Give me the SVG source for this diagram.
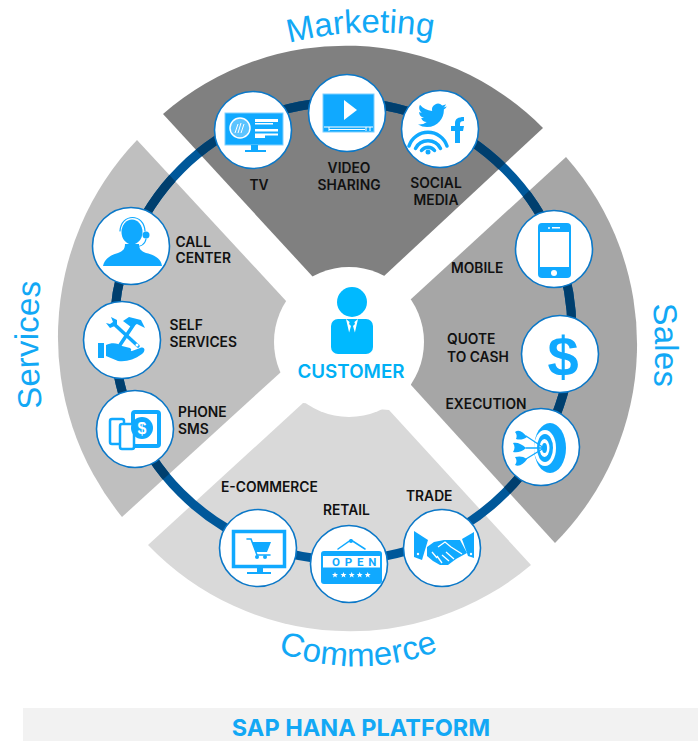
<svg xmlns="http://www.w3.org/2000/svg" width="698" height="741" viewBox="0 0 698 741">
<style>
.lbl{font-family:Inter,Roboto,"Liberation Sans",sans-serif;font-weight:600;font-size:13.8px;fill:#111}
.cap{font-family:"Liberation Sans",Arial,sans-serif;font-size:33px;fill:#12a8f5}
.node{fill:#fff;stroke:#0b78c8;stroke-width:1.6}
.b{fill:#10a9ff}
.w{fill:#fff}
.sb{fill:none;stroke:#10a9ff;stroke-linecap:round}
.sw{fill:none;stroke:#fff}
.ring{fill:none;stroke-width:9}
</style>
<defs>
<path id="pMarketing" d="M289 43A340 340 0 0 1 445 40"/>
<path id="pServices" d="M42 408A600 600 0 0 1 42 270"/>
<path id="pSales" d="M653 304A500 500 0 0 1 653 395"/>
<path id="pCommerce" d="M278 652A225 225 0 0 0 448 647"/>
<clipPath id="darkSectors">
<path d="M163 114A278 278 0 0 1 543 128L383 277H313Z"/>
<path d="M137 140A285 285 0 0 0 122 517L281 372V302L287 302Z"/>
<path d="M566 157A282 282 0 0 1 555 543L411 385L410 300Z"/>
</clipPath>
<polygon id="star" points="0,-3 .8,-1 3,-1 1.3,.4 1.9,2.6 0,1.3 -1.9,2.6 -1.3,.4 -3,-1 -.8,-1"/>
</defs>

<g id="sectors">
<path id="sector-marketing" fill="#808080" d="M163 114A278 278 0 0 1 543 128L383 277H313Z"/>
<path id="sector-services" fill="#bfbfbf" d="M137 140A285 285 0 0 0 122 517L281 372L287 302Z"/>
<path id="sector-sales" fill="#a6a6a6" d="M566 157A282 282 0 0 1 555 543L411 385L410 300Z"/>
<path id="sector-commerce" fill="#d9d9d9" d="M148 545A280 280 0 0 0 531 565L389 410L303 403Z"/>
</g>

<g id="connectors">
<circle class="ring" cx="343" cy="331" r="229" stroke="#00589a"/>
<circle class="ring" cx="343" cy="331" r="229" stroke="#003f6e" clip-path="url(#darkSectors)"/>
</g>

<g id="captions">
<text class="cap"><textPath href="#pMarketing">Marketing</textPath></text>
<text class="cap"><textPath href="#pServices">Services</textPath></text>
<text class="cap"><textPath href="#pSales">Sales</textPath></text>
<text class="cap" letter-spacing=".4"><textPath href="#pCommerce">Commerce</textPath></text>
</g>

<g id="customer">
<circle cx="349" cy="342" r="75" fill="#fff"/>
<circle cx="352" cy="302" r="15" fill="#00b9ff"/>
<rect x="331" y="319" width="42" height="35" rx="7" fill="#00b9ff"/>
<path class="w" d="M346 319L352 324L358 319L355 332L352 335L349 332Z"/>
<path fill="#00b9ff" d="M350 321H354L355 324L353 326L355 333L352 336L349 333L351 326L349 324Z"/>
<text x="351" y="378" text-anchor="middle" style="font-family:Inter,Roboto,sans-serif;font-weight:600;font-size:18.800px;fill:#00b0f5">CUSTOMER</text>
</g>

<g id="node-tv" transform="translate(253 130)">
<circle class="node" r="38.5"/>
<rect class="b" x="-28" y="-17" width="58" height="32" stroke="#7fd0ff"/>
<circle r="10" cx="-13" cy="-2" fill="#5cc4ff" stroke="#fff" stroke-width="1.5"/>
<path class="sw" stroke-width="1" d="M-18 3L-15 -6M-15 3L-12 -7M-12 3L-9 -6"/>
<path class="w" d="M2 -11H25V-8H2ZM2 -7H20V-5.500H2ZM2 -1H25V1.500H2ZM2 3.500H25V5.500H2ZM2 5.500H12V8H2Z"/>
<path class="b" d="M-2 15H5V20H13V22H-8V20H-2Z"/>
<text x="6" y="60" class="lbl" text-anchor="middle">TV</text>
</g>

<g id="node-video" transform="translate(347 113)">
<circle class="node" r="38.500"/>
<rect class="b" x="-24" y="-19" width="51" height="38" stroke="#7fd0ff"/>
<path class="w" d="M-3 -13L10 -3L-3 7Z"/>
<path class="sw" stroke-width="1" d="M-23 14H26M-18 14V18M19 14V18M23 14V18M-18 16.500H18"/>
<text x="2" y="60" class="lbl" text-anchor="middle">VIDEO</text>
<text x="2" y="77" class="lbl" text-anchor="middle">SHARING</text>
</g>

<g id="node-social" transform="translate(440 129)">
<circle class="node" r="38.500"/>
<path class="b" transform="translate(-22 -28) scale(1.2)" d="M23.953 4.57a10 10 0 01-2.825.775 4.958 4.958 0 002.163-2.723c-.951.555-2.005.959-3.127 1.184a4.92 4.92 0 00-8.384 4.482C7.69 8.095 4.067 6.13 1.64 3.162a4.822 4.822 0 00-.666 2.475c0 1.71.87 3.213 2.188 4.096a4.904 4.904 0 01-2.228-.616v.06a4.923 4.923 0 003.946 4.827 4.996 4.996 0 01-2.212.085 4.936 4.936 0 004.604 3.417 9.867 9.867 0 01-6.102 2.105c-.39 0-.779-.023-1.17-.067a13.995 13.995 0 007.557 2.209c9.053 0 13.998-7.496 13.998-13.985 0-.21 0-.42-.015-.63A9.935 9.935 0 0024 4.59z"/>
<path class="b" d="M15 14V2H11V-3H15V-6C15-10 18-12 24-12V-8C21-8 20-7 20-5V-3H24L23 2H20V14Z"/>
<g transform="translate(-12 23)">
<circle class="b" r="2.500"/>
<path class="sb" stroke-width="3.500" stroke-linecap="butt" d="M-19 -6A20 20 0 0 1 19 -6M-12.500 -3.500A14 14 0 0 1 12.500 -3.500M-6.500 -1.500A8 8 0 0 1 6.500 -1.500"/>
</g>
<text x="-4" y="59" class="lbl" text-anchor="middle">SOCIAL</text>
<text x="-4" y="76" class="lbl" text-anchor="middle">MEDIA</text>
</g>

<g id="node-call" transform="translate(131 246)">
<circle class="node" r="38.500"/>
<ellipse class="b" cx="1" cy="-14" rx="10.500" ry="12.500"/>
<path class="sb" stroke-width="1.200" d="M-11 -15C-10 -33 13 -33 14 -15"/>
<circle class="b" cx="15" cy="-11" r="3.500"/>
<path class="sb" stroke-width="1.200" d="M15 -7C14 -1 8 1 3 1"/>
<path class="b" d="M-28 20C-26 12 -20 9 -13 7C-8 5 -6 3 -6 -2H8C8 3 10 5 15 7C23 9 30 12 31 20Z"/>
<text x="44.500" y="1" class="lbl">CALL</text>
<text x="44.500" y="17" class="lbl">CENTER</text>
</g>

<g id="node-self" transform="translate(122 340)">
<circle class="node" r="38.500"/>
<rect class="b" x="-24" y="3" width="6" height="15"/>
<path class="b" d="M-16 5C-10 2 -4 3 0 6L8 8C11 10 8 13 4 12L0 12L10 11L18 8C23 6 24 11 20 14C12 20 4 22 -4 21L-16 16Z"/>
<path class="sb" stroke-width="3.500" d="M-8 -16L16 6"/>
<path class="sb" stroke-width="3.500" d="M-2 5L12 -16"/>
<path class="b" d="M1 -19L7 -23L19 -20L23 -12L15 -16L9 -13Z"/>
<path class="b" d="M-11 -23L-5 -20L-5 -15L-12 -12L-16 -17L-12 -16L-9 -18Z"/>
<circle class="w" cx="15" cy="5" r="1.500"/>
<text x="47.500" y="-10" class="lbl">SELF</text>
<text x="47.500" y="7" class="lbl">SERVICES</text>
</g>

<g id="node-phone" transform="translate(135 429)">
<circle class="node" r="38.500"/>
<rect x="-2" y="-17" width="26" height="34" rx="2" fill="#fff" stroke="#10a9ff" stroke-width="4"/>
<rect x="-25" y="-10" width="14" height="25" rx="2" fill="#fff" stroke="#10a9ff" stroke-width="2.500"/>
<rect x="-15" y="-5" width="14" height="25" rx="2" fill="#fff" stroke="#10a9ff" stroke-width="2.500"/>
<circle class="b" cx="7" cy="-1" r="11"/>
<text x="7" y="5" text-anchor="middle" style="font-family:'Liberation Sans',sans-serif;font-weight:700;font-size:16px;fill:#fff">$</text>
<text x="43" y="-12" class="lbl">PHONE</text>
<text x="43" y="5" class="lbl">SMS</text>
</g>

<g id="node-mobile" transform="translate(554 249)">
<circle class="node" r="38.500"/>
<rect class="b" x="-16" y="-26" width="33" height="55" rx="4"/>
<rect class="w" x="-14" y="-17" width="29" height="35"/>
<circle class="w" cx="0" cy="24" r="3"/>
<rect class="w" x="-2" y="-22" width="8" height="1.500"/>
<circle class="w" cx="-5" cy="-21" r="1"/>
<text x="-103" y="24" class="lbl">MOBILE</text>
</g>

<g id="node-quote" transform="translate(560 354)">
<circle class="node" r="38.500"/>
<text x="3" y="22" text-anchor="middle" style="font-family:'Liberation Sans',sans-serif;font-weight:700;font-size:56px;fill:#10a9ff">$</text>
<text x="-113" y="-10" class="lbl">QUOTE</text>
<text x="-113" y="8" class="lbl">TO CASH</text>
</g>

<g id="node-execution" transform="translate(541 447)">
<circle class="node" r="38.500"/>
<ellipse class="b" cx="9" cy="1" rx="16" ry="25"/>
<ellipse class="w" cx="4" cy="1" rx="11" ry="18"/>
<ellipse class="b" cx="4" cy="1" rx="8" ry="14"/>
<ellipse class="w" cx="3.500" cy="1" rx="5" ry="9"/>
<ellipse class="b" cx="3.500" cy="1" rx="2.500" ry="5"/>
<path class="sb" stroke-width="1.300" d="M3 1L-15 -11M3 1L-15 1M3 1L-15 12"/>
<path class="b" d="M-26 -15C-22 -18 -18 -15 -14 -10C-18 -7 -22 -7 -25 -8C-24 -10 -24 -13 -26 -15Z"/>
<path class="b" d="M-28 -4C-24 -5 -19 -3 -15 1C-19 5 -24 6 -28 5C-26 2 -26 -1 -28 -4Z"/>
<path class="b" d="M-26 10C-22 9 -18 9 -14 12C-17 17 -22 20 -26 18C-24 15 -24 13 -26 10Z"/>
<text x="-95.500" y="-38" class="lbl">EXECUTION</text>
</g>

<g id="node-ecommerce" transform="translate(258 548)">
<circle class="node" r="38.500"/>
<rect x="-24.500" y="-16.500" width="51" height="35" fill="#fff" stroke="#10a9ff" stroke-width="3.500"/>
<path class="b" d="M-1 20H5V24H13V26H-11V24H-1Z"/>
<path class="sb" stroke-width="1.600" d="M-11 -9H-7L-1 7H12"/>
<path class="b" d="M-6 -6H13L9 4H-2Z"/>
<circle class="b" cx="-1" cy="9" r="2"/>
<circle class="b" cx="7" cy="9" r="2"/>
<text x="-37" y="-56" class="lbl">E-COMMERCE</text>
</g>

<g id="node-retail" transform="translate(349 564)">
<circle class="node" r="38.500"/>
<path class="sb" stroke-width="1.500" d="M-11 -15L2 -24L16 -15"/>
<circle class="b" cx="2" cy="-23" r="2"/>
<rect class="b" x="-28" y="-13" width="61" height="33" rx="3"/>
<rect class="w" x="-26" y="-8" width="57" height="11.500"/>
<text x="-17" y="2" style="font-family:Roboto,sans-serif;font-weight:700;font-size:11.500px;letter-spacing:4.800px;fill:#10a9ff">OPEN</text>
<use href="#star" x="-14" y="11" fill="#fff"/>
<use href="#star" x="-5.500" y="11" fill="#fff"/>
<use href="#star" x="2.700" y="11" fill="#fff"/>
<use href="#star" x="10.700" y="11" fill="#fff"/>
<use href="#star" x="18.700" y="11" fill="#fff"/>
<text x="-26" y="-49" class="lbl">RETAIL</text>
</g>

<g id="node-trade" transform="translate(442 548)">
<circle class="node" r="38.500"/>
<path class="b" d="M-28 -17L-14 -8L-20 12L-28 9Z"/>
<path class="b" d="M32 -16L20 -9L26 8L32 10Z"/>
<path class="b" d="M-15 -1L-8 -6L2 -8L8 -8L18 -8L25 5L14 11L6 17L-2 17L-9 13L-15 8Z"/>
<path class="sw" stroke-width="1.300" d="M-4 -1L3 -6L9 -1L20 6M4 4L12 11M0 7L7 13M-5 8L0 15M-10 4L-5 10"/>
<circle class="w" cx="-24" cy="6" r="1.200"/>
<circle class="w" cx="29" cy="6" r="1.200"/>
<text x="-36" y="-47" class="lbl">TRADE</text>
</g>

<g id="platform">
<rect x="23" y="708" width="675" height="33" fill="#f2f2f2"/>
<text x="361" y="736" text-anchor="middle" style="font-family:Inter,Roboto,sans-serif;font-weight:700;font-size:23.500px;fill:#12a8f5">SAP HANA PLATFORM</text>
</g>
</svg>
